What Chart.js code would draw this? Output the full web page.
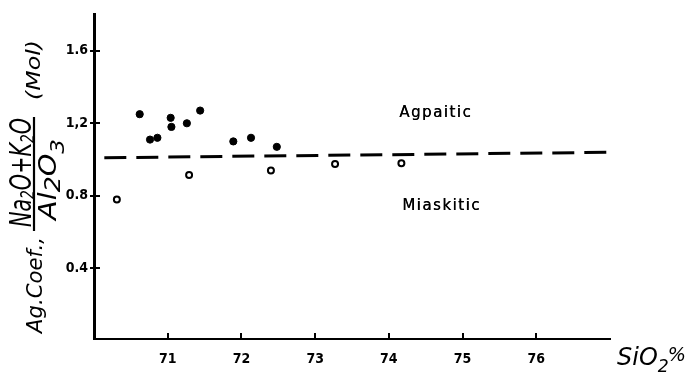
<!DOCTYPE html>
<html>
<head>
<meta charset="utf-8">
<script src="https://cdn.jsdelivr.net/npm/chart.js@4.4.1/dist/chart.umd.min.js"></script>
<style>
  html, body { margin: 0; padding: 0; background: #fff; }
  #wrap { width: 693px; height: 380px; }
</style>
</head>
<body>
<div id="wrap"><canvas id="c" width="693" height="380"></canvas></div>
<script>
// ---- data ----
const xTickValues = [71, 72, 73, 74, 75, 76];
const xTickLabels = ['71', '72', '73', '74', '75', '76'];
const yTickValues = [0.4, 0.8, 1.2, 1.6];
const yTickLabels = ['0.4', '0.8', '1,2', '1.6'];

// filled circles (agpaitic)
const agpaiticSiO2 = [70.62, 70.76, 70.86, 71.04, 71.05, 71.26, 71.44, 71.89, 72.13, 72.48];
const agpaiticCoef = [1.25, 1.11, 1.12, 1.23, 1.18, 1.20, 1.27, 1.10, 1.12, 1.07];

// open circles (miaskitic)
const miaskiticSiO2 = [70.31, 71.29, 72.40, 73.27, 74.17];
const miaskiticCoef = [0.78, 0.915, 0.94, 0.975, 0.98];

// dividing dashed line
const boundarySiO2 = [70.14, 76.97];
const boundaryCoef = [1.01, 1.04];

// region labels
const regionNames = ['Agpaitic', 'Miaskitic'];
const regionSiO2 = [74.14, 74.18];
const regionCoef = [1.257, 0.743];

const xMin = 70, xMax = 77;
const yMin = 0.011, yMax = 1.8;

const toPts = (xs, ys) => xs.map((x, i) => ({ x: x, y: ys[i] }));

const FONT_TICK = "'Liberation Sans Narrow', 'DejaVu Sans Condensed', sans-serif";
const FONT_TITLE = "'DejaVu Sans', sans-serif";

function drawRunsFit(ctx, runs, u0, u1, vBase) {
  let total = 0;
  const widths = runs.map(r => {
    ctx.font = r.font;
    const w = ctx.measureText(r.text).width;
    total += w + (r.kern || 0);
    return w;
  });
  const sx = (u1 - u0) / total;
  ctx.save();
  ctx.translate(u0, vBase);
  ctx.scale(sx, 1);
  let x = 0;
  runs.forEach((r, i) => {
    ctx.font = r.font;
    ctx.fillText(r.text, x, r.dy || 0);
    x += widths[i] + (r.kern || 0);
  });
  ctx.restore();
}

const decorPlugin = {
  id: 'decor',
  afterDraw(chart) {
    const ctx = chart.ctx;
    const xs = chart.scales.x, ys = chart.scales.y;
    const area = chart.chartArea;
    ctx.save();
    ctx.strokeStyle = '#000';
    ctx.fillStyle = '#000';
    // x ticks (inward, upward)
    ctx.lineWidth = 2;
    xTickValues.forEach(v => {
      const px = Math.round(xs.getPixelForValue(v));
      ctx.beginPath();
      ctx.moveTo(px, area.bottom);
      ctx.lineTo(px, area.bottom - 6);
      ctx.stroke();
    });
    // y ticks (crossing the axis)
    yTickValues.forEach(v => {
      const py = Math.round(ys.getPixelForValue(v));
      ctx.beginPath();
      ctx.moveTo(area.left - 4, py);
      ctx.lineTo(area.left + 6, py);
      ctx.stroke();
    });

    // region labels
    ctx.textBaseline = 'middle';
    ctx.textAlign = 'left';
    ctx.font = "15px " + FONT_TITLE;
    ctx.letterSpacing = '1.5px';
    regionNames.forEach((t, i) => {
      const x = xs.getPixelForValue(regionSiO2[i]);
      const y = ys.getPixelForValue(regionCoef[i]);
      ctx.fillText(t, x, y);
      ctx.fillText(t, x + 0.4, y);
    });
    ctx.letterSpacing = '0px';

    // x-axis title SiO2%
    ctx.textBaseline = 'alphabetic';
    drawRunsFit(ctx, [
      { text: 'SiO', font: "italic 25px " + FONT_TITLE },
      { text: '2', font: "italic 18px " + FONT_TITLE, dy: 7, kern: -1 },
      { text: '%', font: "italic 20px " + FONT_TITLE, dy: -4 }
    ], 617, 686, 365);

    // y-axis title (rotated)
    ctx.save();
    ctx.translate(0, 339);
    ctx.rotate(-Math.PI / 2);
    ctx.textBaseline = 'alphabetic';
    // Ag.Coef.,
    drawRunsFit(ctx, [{ text: 'Ag.Coef.,', font: "italic 22px " + FONT_TITLE }], 6, 102, 42);
    // numerator
    drawRunsFit(ctx, [
      { text: 'Na', font: "italic 30px " + FONT_TITLE },
      { text: '2', font: "italic 20px " + FONT_TITLE, dy: 3 },
      { text: 'O+K', font: "italic 30px " + FONT_TITLE },
      { text: '2', font: "italic 20px " + FONT_TITLE, dy: 3 },
      { text: 'O', font: "italic 30px " + FONT_TITLE }
    ], 112, 221, 31);
    // fraction bar
    ctx.lineWidth = 2.2;
    ctx.beginPath();
    ctx.moveTo(108, 34);
    ctx.lineTo(222, 34);
    ctx.stroke();
    // denominator
    drawRunsFit(ctx, [
      { text: 'Al', font: "italic 25px " + FONT_TITLE },
      { text: '2', font: "italic 22px " + FONT_TITLE, dy: 4 },
      { text: 'O', font: "italic 25px " + FONT_TITLE },
      { text: '3', font: "italic 20px " + FONT_TITLE, dy: 8 }
    ], 119, 200, 56);
    // (Mol)
    drawRunsFit(ctx, [{ text: '(Mol)', font: "italic 20px " + FONT_TITLE }], 239, 299, 40);
    ctx.restore();

    ctx.restore();
  }
};

new Chart(document.getElementById('c'), {
  type: 'scatter',
  data: {
    datasets: [
      {
        label: 'boundary',
        data: toPts(boundarySiO2, boundaryCoef),
        showLine: true,
        borderColor: '#000',
        borderWidth: 3,
        borderDash: [22, 10],
        pointRadius: 0,
        fill: false,
        order: 3
      },
      {
        label: 'agpaitic',
        data: toPts(agpaiticSiO2, agpaiticCoef),
        pointRadius: 3.6,
        pointBackgroundColor: '#000',
        pointBorderColor: '#000',
        pointBorderWidth: 1,
        order: 1
      },
      {
        label: 'miaskitic',
        data: toPts(miaskiticSiO2, miaskiticCoef),
        pointRadius: 3,
        pointBackgroundColor: '#fff',
        pointBorderColor: '#000',
        pointBorderWidth: 2,
        order: 2
      }
    ]
  },
  options: {
    responsive: false,
    animation: false,
    devicePixelRatio: 1,
    layout: { padding: { left: 0, right: 83, top: 8, bottom: 0 } },
    plugins: { legend: { display: false }, tooltip: { enabled: false } },
    scales: {
      x: {
        type: 'linear',
        min: xMin, max: xMax,
        afterBuildTicks: s => { s.ticks = xTickValues.map(v => ({ value: v })); },
        afterFit: s => { s.height = 41; },
        grid: { display: true, drawOnChartArea: false, drawTicks: false },
        border: { display: true, color: '#000', width: 2 },
        ticks: {
          color: '#000',
          padding: 12,
          maxRotation: 0,
          autoSkip: false,
          font: { family: FONT_TICK, size: 14, weight: 'bold' },
          callback: v => { const i = xTickValues.indexOf(v); return i >= 0 ? xTickLabels[i] : ''; }
        }
      },
      y: {
        type: 'linear',
        min: yMin, max: yMax,
        afterBuildTicks: s => { s.ticks = yTickValues.map(v => ({ value: v })); },
        afterFit: s => { s.width = 94; },
        grid: { display: true, drawOnChartArea: false, drawTicks: false },
        border: { display: true, color: '#000', width: 3 },
        ticks: {
          color: '#000',
          padding: 6,
          autoSkip: false,
          font: { family: FONT_TICK, size: 14, weight: 'bold' },
          callback: v => { const i = yTickValues.indexOf(v); return i >= 0 ? yTickLabels[i] : ''; }
        }
      }
    }
  },
  plugins: [decorPlugin]
});
</script>
</body>
</html>
